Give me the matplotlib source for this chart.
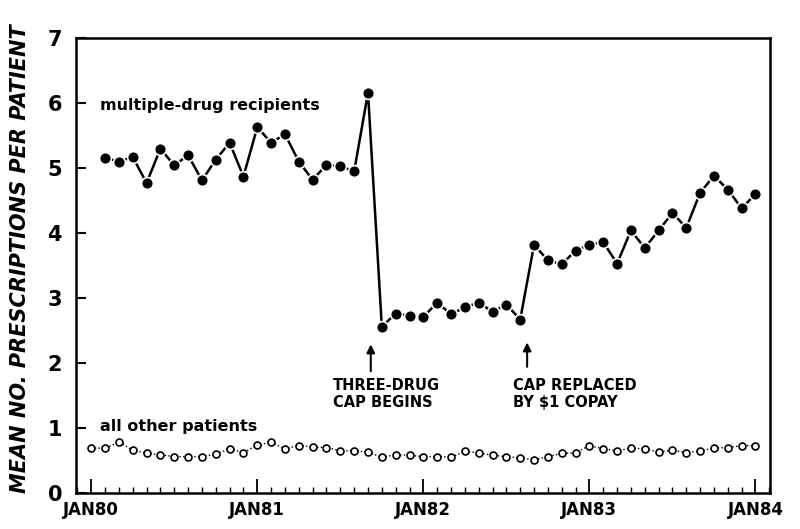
import numpy as np
import matplotlib
matplotlib.use("Agg")
from matplotlib import pyplot as plt
from matplotlib.ticker import MultipleLocator, FixedLocator

# months counted from JAN80 = 0
multi_months = np.arange(1, 49)
multi_vals = [5.16, 5.10, 5.17, 4.77, 5.30, 5.04, 5.20, 4.81, 5.13, 5.39,
              4.87, 5.63, 5.39, 5.52, 5.10, 4.82, 5.05, 5.03, 4.95, 6.16,
              2.56, 2.76, 2.73, 2.71, 2.93, 2.75, 2.86, 2.93, 2.79, 2.90,
              2.67, 3.82, 3.58, 3.52, 3.73, 3.82, 3.86, 3.53, 4.04, 3.77,
              4.04, 4.31, 4.08, 4.62, 4.88, 4.67, 4.38, 4.60]

other_months = np.arange(0, 49)
other_vals = [0.69, 0.69, 0.78, 0.66, 0.61, 0.59, 0.56, 0.56, 0.56, 0.60,
              0.68, 0.62, 0.74, 0.78, 0.68, 0.73, 0.71, 0.70, 0.65, 0.65,
              0.63, 0.55, 0.59, 0.58, 0.56, 0.56, 0.55, 0.64, 0.62, 0.58,
              0.56, 0.54, 0.51, 0.56, 0.61, 0.62, 0.73, 0.68, 0.65, 0.69,
              0.68, 0.63, 0.66, 0.62, 0.65, 0.69, 0.70, 0.73, 0.73]

year_ticks = [0, 12, 24, 36, 48]
year_labels = ['JAN80', 'JAN81', 'JAN82', 'JAN83', 'JAN84']

fig = plt.figure(figsize=(8, 5.29), dpi=100)
ax = fig.add_axes([0.095, 0.068, 0.8675, 0.86])

ax.plot(multi_months, multi_vals, color='black', lw=1.8, marker='o', ms=8.5,
        mfc='black', mec='white', mew=1.2, zorder=3)
ax.plot(other_months, other_vals, color='black', lw=1.0, ls=':',
        marker='o', ms=5, mfc='white', mec='black', mew=1.2, zorder=3)

ax.set_xlim(-1.1, 49.05)
ax.set_ylim(0, 7)

ax.yaxis.set_major_locator(MultipleLocator(1))
ax.xaxis.set_major_locator(FixedLocator(year_ticks))
ax.xaxis.set_minor_locator(MultipleLocator(1))
ax.set_xticklabels(year_labels)

ax.tick_params(axis='y', direction='in', length=7, width=1.5, left=True,
               right=False, labelsize=15, pad=10)
ax.tick_params(axis='x', which='major', direction='in', length=10, width=1.3,
               top=False, labelsize=12, pad=6)
ax.tick_params(axis='x', which='minor', direction='in', length=4, width=1.0,
               top=False)
for lab in ax.get_xticklabels() + ax.get_yticklabels():
    lab.set_fontweight('bold')
for sp in ax.spines.values():
    sp.set_linewidth(1.8)

ax.set_ylabel('MEAN NO. PRESCRIPTIONS PER PATIENT', fontsize=15,
              fontweight='bold', fontstyle='italic')
ax.yaxis.set_label_coords(-0.067, 0.516)

ax.text(0.6, 5.97, 'multiple-drug recipients', fontsize=11.5,
        fontweight='bold', va='center', ha='left')
ax.text(0.6, 1.02, 'all other patients', fontsize=11.5, fontweight='bold',
        va='center', ha='left')

ax.annotate('', xy=(20.2, 2.33), xytext=(20.2, 1.83),
            arrowprops=dict(arrowstyle='-|>', color='black', lw=1.5,
                            mutation_scale=12))
ax.annotate('', xy=(31.5, 2.36), xytext=(31.5, 1.90),
            arrowprops=dict(arrowstyle='-|>', color='black', lw=1.5,
                            mutation_scale=12))
ax.text(17.45, 1.77, 'THREE-DRUG\nCAP BEGINS', fontsize=10.5,
        fontweight='bold', va='top', ha='left', linespacing=1.2)
ax.text(30.45, 1.77, 'CAP REPLACED\nBY $1 COPAY', fontsize=10.5,
        fontweight='bold', va='top', ha='left', linespacing=1.2)

fig.savefig('out.png', dpi=100)
